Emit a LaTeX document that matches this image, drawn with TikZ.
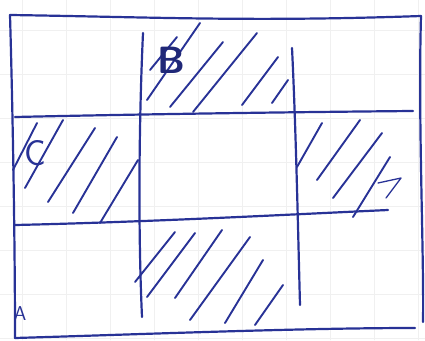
\documentclass[tikz,border=0pt]{standalone}
\usepackage{tikz}

\definecolor{inkblue}{RGB}{40,50,150}

\begin{document}
\begin{tikzpicture}[x=1pt, y=-1pt, line cap=round, line join=round,
    pen/.style={draw=inkblue, line width=2.2pt},
    hatch/.style={draw=inkblue, line width=1.9pt},
    letter/.style={text=inkblue, font=\fontsize{36}{36}\selectfont\sffamily, inner sep=0pt}]
  \useasboundingbox (0,0) rectangle (425,340);
  % Faint squared paper behind the sketch
  \foreach \x in {22,66,...,420} {
    \draw[gray!12, line width=0.8pt] (\x,0) -- (\x,340);
  }
  \foreach \y in {30,74,...,340} {
    \draw[gray!12, line width=0.8pt] (0,\y) -- (425,\y);
  }
  % Outer frame, drawn by hand
  \draw[pen] (10,15) .. controls (150,17) and (250,22) .. (421,16);
  \draw[pen] (10,15) .. controls (13,120) and (15,250) .. (15,338);
  \draw[pen] (421,16) .. controls (418,120) and (424,250) .. (423,322);
  \draw[pen] (15,338) .. controls (150,334) and (300,328) .. (415,328);
  % Two horizontal and two vertical dividers
  \draw[pen] (15,117) .. controls (150,114) and (300,112) .. (413,111);
  \draw[pen] (15,225) .. controls (150,222) and (300,214) .. (388,210);
  \draw[pen] (143,33) .. controls (139,120) and (138,230) .. (142,317);
  \draw[pen] (292,48) .. controls (296,130) and (298,230) .. (300,305);
  % Hatching, top middle cell
  \foreach \xa/\ya/\xb/\yb in {147/100/200/23, 170/107/223/42, 193/112/257/33,
                     242/105/278/57, 272/103/288/80, 150/70/177/37} {
    \draw[hatch] (\xa,\ya) -- (\xb,\yb);
  }
  % Hatching, middle left cell
  \foreach \xa/\ya/\xb/\yb in {13/170/37/123, 25/188/63/120, 48/202/95/128,
                     73/213/117/137, 100/223/138/160} {
    \draw[hatch] (\xa,\ya) -- (\xb,\yb);
  }
  % Hatching, middle right cell
  \foreach \xa/\ya/\xb/\yb in {297/167/322/123, 317/180/360/120, 333/198/382/133,
                     353/217/390/157} {
    \draw[hatch] (\xa,\ya) -- (\xb,\yb);
  }
  \draw[draw=inkblue, line width=1.3pt] (378,183) -- (401,178) -- (386,198);
  % Cell letters
  \node[letter, font=\fontsize{38}{38}\selectfont\sffamily\bfseries, text=inkblue!80!black]
    (labB) at (171,60) {B};
  \node[letter] (labC) at (35,153) {C};
  \node[letter, font=\fontsize{20}{20}\selectfont\sffamily] (labA) at (20,314) {A};
  % Hatching, bottom middle cell
  \foreach \xa/\ya/\xb/\yb in {135/282/175/232, 147/297/195/233, 175/298/222/230,
                     190/320/250/237, 225/323/263/260, 255/325/283/285} {
    \draw[hatch] (\xa,\ya) -- (\xb,\yb);
  }
\end{tikzpicture}
\end{document}
